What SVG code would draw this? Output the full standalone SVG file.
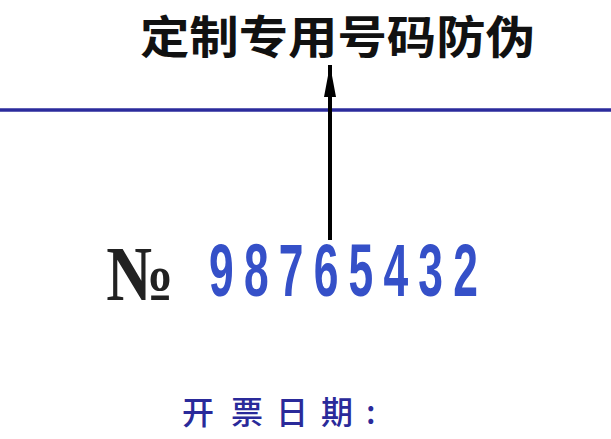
<svg xmlns="http://www.w3.org/2000/svg" width="611" height="439" viewBox="0 0 611 439">
<style>
.title{font-family:"Noto Sans CJK SC","Noto Sans CJK TC",sans-serif;font-weight:bold;font-size:45px;fill:#111}
.no{font-family:"Liberation Serif","DejaVu Serif",serif;font-weight:bold;font-size:78px;fill:#222}
.num{font-family:"Liberation Sans","DejaVu Sans",sans-serif;font-weight:bold;font-size:74px;fill:#3550c8}
.date{font-family:"Noto Sans CJK SC",sans-serif;font-weight:500;font-size:32px;fill:#2a2a9a}
</style>
<defs>
<marker id="ah" viewBox="0 0 32 12" refX="32" refY="6" markerWidth="32" markerHeight="12" markerUnits="userSpaceOnUse" orient="auto">
<path d="M0,0 L32,6 L0,12 Z" fill="#000"/>
</marker>
</defs>
<rect width="611" height="439" fill="#fff"/>
<g id="title"><text class="title" x="140" y="54" textLength="395" lengthAdjust="spacingAndGlyphs">定制专用号码防伪</text></g>
<g id="divider"><line x1="0" y1="110" x2="611" y2="110" stroke="#2b2b9c" stroke-width="3.5"/></g>
<g id="connectors"><line x1="330" y1="240" x2="330" y2="65" stroke="#000" stroke-width="4" marker-end="url(#ah)"/></g>
<g id="number">
<text class="no" x="106" y="300" textLength="68" lengthAdjust="spacingAndGlyphs">№</text>
<text class="num" transform="translate(209,296) scale(0.6,1)" x="0" y="0" letter-spacing="17">98765432</text>
</g>
<g id="date"><text class="date" x="182 231 276 321 366" y="424">开票日期:</text></g>
</svg>
